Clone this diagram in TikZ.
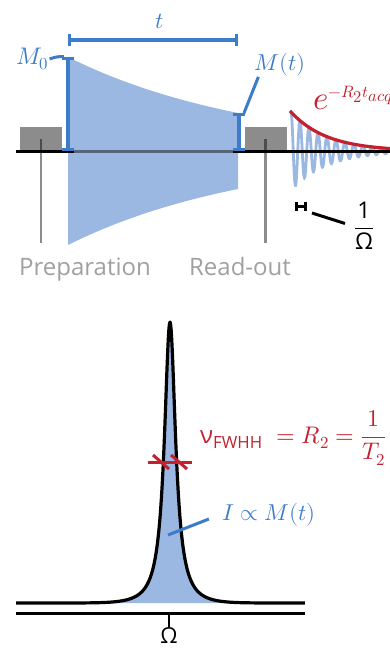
\documentclass[tikz,border=0pt]{standalone}
\usepackage{amsmath}
\usepackage{fontspec}
\usepackage{unicode-math}
\setmathfont{Latin Modern Math}
\setsansfont{Open Sans}
\usepackage{tikz}
\usetikzlibrary{arrows.meta, positioning}
\definecolor{nmrblue}{HTML}{3D7CC9}
\definecolor{nmrbluelight}{HTML}{9BB8E2}
\definecolor{nmrred}{HTML}{C4202E}
\definecolor{nmrgray}{HTML}{8C8C8C}
\definecolor{nmrgraytext}{HTML}{A0A0A0}
\definecolor{nmrslate}{HTML}{58647A}
\newcommand{\sftxt}[1]{\text{\sffamily #1}}

\begin{document}
\begin{tikzpicture}[
  x=1pt, y=-1pt,
  declare function={amp(\x)=94*exp(-0.00533*(\x-68));
    env(\x)=39*exp(-0.0278*(\x-291));
    lor(\x)=603-281*exp(-((\x-170)/50)^2)/(1+((\x-170)/6.8)^2);},
  pulsebox/.style={fill=nmrgray, minimum width=42pt, minimum height=24pt, inner sep=0pt},
  guide/.style={draw=black, draw opacity=0.45, line width=2.4pt},
  axis/.style={black, line width=3pt},
  beam/.style={nmrblue, line width=3.2pt, {Bar[width=12pt]}-{Bar[width=12pt]}},
  leader/.style={line width=3pt},
  bluelbl/.style={text=nmrblue, font=\fontsize{23}{25}\selectfont, inner sep=1pt},
  graylbl/.style={text=nmrgraytext, font=\sffamily\fontsize{24}{26}\selectfont, inner sep=1pt},
  redlbl/.style={text=nmrred, font=\fontsize{24}{26}\selectfont, inner sep=1pt}
]
\useasboundingbox (0,0) rectangle (390,649);

% pulse sequence
\node[pulsebox] (prepbox) at (41,139) {};
\node[pulsebox] (readbox) at (265.5,139) {};
\coordinate (prepfoot) at (41,243);
\coordinate (readfoot) at (265.5,243);
\draw[guide] (prepbox.center) -- (prepfoot);
\draw[guide] (readbox.center) -- (readfoot);

\fill[nmrbluelight] plot[domain=68:238, samples=60] (\x, {151-amp(\x)})
  -- plot[domain=238:68, samples=60] (\x, {151+amp(\x)}) -- cycle;
\draw[nmrbluelight, line width=2.8pt] plot[domain=291:392, samples=400] (\x, {151-env(\x)*cos(360/9*(\x-291))});

\coordinate (axL) at (16,151);
\coordinate (axR) at (392,151);
\coordinate (fillL) at (74,151);
\coordinate (fillR) at (233,151);
\draw[axis] (axL) -- (axR);
\draw[axis, nmrslate] (fillL) -- (fillR);
\draw[nmrred, line width=3.2pt] plot[domain=290:392, samples=60] (\x, {151-env(\x)});

\coordinate (m0top) at (68,57);
\coordinate (m0bot) at (68,151);
\coordinate (mttop) at (239,113);
\coordinate (mtbot) at (239,151);
\draw[beam] (m0bot) -- (m0top);
\draw[beam] (mtbot) -- (mttop);

\coordinate (tL) at (68,40);
\coordinate (tR) at (238,40);
\draw[beam] (tL) -- (tR);
\node[bluelbl, anchor=base] (tlab) at (160,28) {$t$};

\node[bluelbl, anchor=base west, font=\fontsize{24}{26}\selectfont] (m0lab) at (15,64) {$M_0$};
\coordinate (m0tip) at (64,56.5);
\draw[leader, nmrblue] (m0lab.east) to[bend left=10] (m0tip);

\node[bluelbl, anchor=base] (mtlab) at (280,70) {$M(t)$};
\coordinate (mtcap) at (244,113);
\draw[leader, nmrblue] (mtcap) -- ([xshift=5pt]mtlab.south west);

\node[redlbl, anchor=base west, font=\fontsize{33}{35}\selectfont] (decay) at (312,109) {$e^{\scriptscriptstyle -R_2 t_{acq}}$};

\coordinate (perL) at (295,206);
\coordinate (perR) at (307,206);
\draw[black, line width=3pt, {Bar[width=9pt]}-{Bar[width=9pt]}] (perL) -- (perR);
\node[anchor=base, inner sep=1pt, font=\fontsize{23}{25}\selectfont] (omfrac) at (364,234) {$\dfrac{\sftxt{1}}{\sftxt{Ω}}$};
\coordinate (perlead) at (312,213);
\draw[leader, shorten >=8pt] (perlead) -- (omfrac.west);

\node[graylbl, anchor=base] (preplab) at (85,275) {Preparation};
\node[graylbl, anchor=base] (readlab) at (240,275) {Read-out};

% spectrum
\fill[nmrbluelight] plot[domain=16:305, samples=500] (\x, {lor(\x)}) -- cycle;
\draw[black, line width=3.2pt, line join=round] plot[domain=16:305, samples=500] (\x, {lor(\x)});

\coordinate (specL) at (16,613);
\coordinate (specR) at (305,613);
\coordinate (tickO) at (169,613);
\draw[axis] (specL) -- (specR);
\node[inner sep=0.5pt, font=\sffamily\fontsize{22}{24}\selectfont] (omlab) at (169,636) {Ω};
\draw[black, line width=2.4pt] (tickO) -- (omlab.north);

\coordinate (hwL) at (148,462);
\coordinate (hwR) at (192,462);
\draw[nmrred, line width=3pt] (hwL) -- (hwR);
\foreach \hx in {161,179}
  \draw[nmrred, line width=3pt] (\hx-8,455) -- (\hx+8,469);
\node[redlbl, anchor=base west] (fwhhlab) at (199,443)
  {$\sftxt{ν}_{\sftxt{FWHH}}\ = R_2 = \dfrac{1}{T_2}$};

\node[bluelbl, anchor=base] (ilab) at (269,520) {$I\propto M(t)$};
\coordinate (ipoint) at (168,535);
\draw[leader, nmrblue, shorten <=13pt] (ilab.west) -- (ipoint);
\end{tikzpicture}
\end{document}
